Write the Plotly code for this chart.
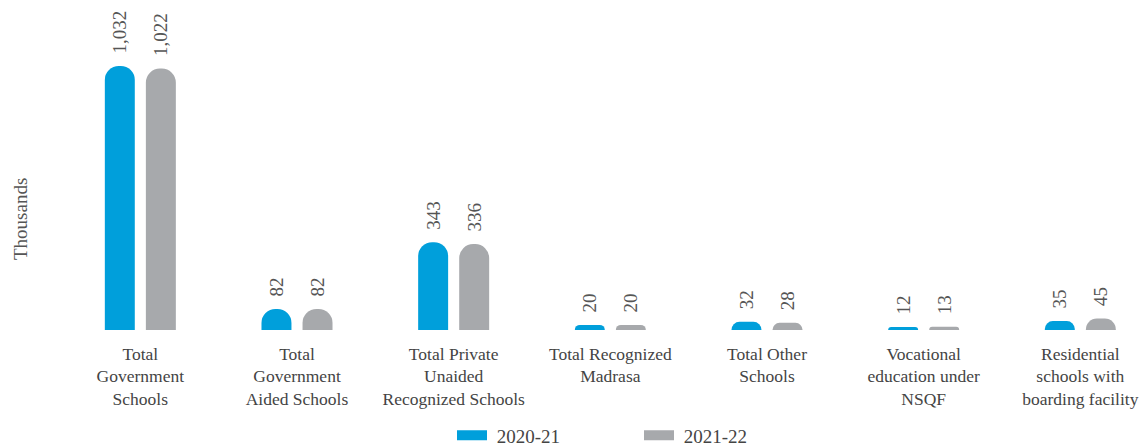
import plotly.graph_objects as go

categories = [
    "Total<br>Government<br>Schools",
    "Total<br>Government<br>Aided Schools",
    "Total Private<br>Unaided<br>Recognized Schools",
    "Total Recognized<br>Madrasa",
    "Total Other<br>Schools",
    "Vocational<br>education under<br>NSQF",
    "Residential<br>schools with<br>boarding facility",
]
series_names = ["2020-21", "2021-22"]
values_2020_21 = [1032, 82, 343, 20, 32, 12, 35]
values_2021_22 = [1022, 82, 336, 20, 28, 13, 45]
colors = ["#009FDB", "#A7A9AC"]

FONT = "Liberation Serif"
x_idx = list(range(len(categories)))

L, R, T, B = 62, 0, 0, 116
W, H = 1143, 446
PW = W - L - R
PH = H - T - B

fig = go.Figure()
for name, vals, col in zip(series_names, [values_2020_21, values_2021_22], colors):
    fig.add_trace(go.Bar(
        x=x_idx, y=vals, name=name, showlegend=False,
        marker=dict(color=col, line=dict(width=0)),
        texttemplate="\u00a0\u00a0%{y:,}", textposition="outside", textangle=-90,
        textfont=dict(family=FONT, size=19, color="#555555"),
        constraintext="none", cliponaxis=False,
    ))
# legend entries (no data points) drawn as thick line swatches
for name, col in zip(series_names, colors):
    fig.add_trace(go.Scatter(
        x=[None], y=[None], name="\u00a0" + name, mode="lines",
        line=dict(color=col, width=12), showlegend=True,
    ))

fig.update_layout(
    width=W, height=H,
    margin=dict(l=L, r=R, t=T, b=B, autoexpand=False),
    paper_bgcolor="white", plot_bgcolor="white",
    barmode="group", bargap=0.476, bargroupgap=0.27,
    barcornerradius=15,
    font=dict(family=FONT, size=18, color="#444444"),
    legend=dict(
        orientation="h", x=(452 - L) / PW, xanchor="left",
        y=-(435.5 - PH) / PH, yanchor="middle",
        font=dict(family=FONT, size=19, color="#444444"),
        entrywidth=142, entrywidthmode="pixels",
        bgcolor="rgba(0,0,0,0)",
    ),
    annotations=[dict(
        text="Thousands", xref="paper", yref="paper", x=(21 - L) / PW, y=(PH - 219) / PH,
        textangle=-90, showarrow=False, xanchor="center", yanchor="middle",
        font=dict(family=FONT, size=19, color="#555555"),
    )],
)
fig.update_xaxes(
    tickmode="array", tickvals=x_idx, ticktext=categories,
    range=[-0.5, 6.40], showgrid=False, zeroline=False, showline=False,
    ticks="", ticklabelstandoff=11, automargin=False,
    tickfont=dict(family=FONT, size=17.5, color="#444444"),
)
fig.update_yaxes(
    range=[0, 1290], showgrid=False, zeroline=False, showline=False,
    showticklabels=False, ticks="", automargin=False,
)

fig.write_html(
    "out.html",
    config={"displayModeBar": False},
    post_script="document.body.style.margin='0';document.body.style.padding='0';",
)
